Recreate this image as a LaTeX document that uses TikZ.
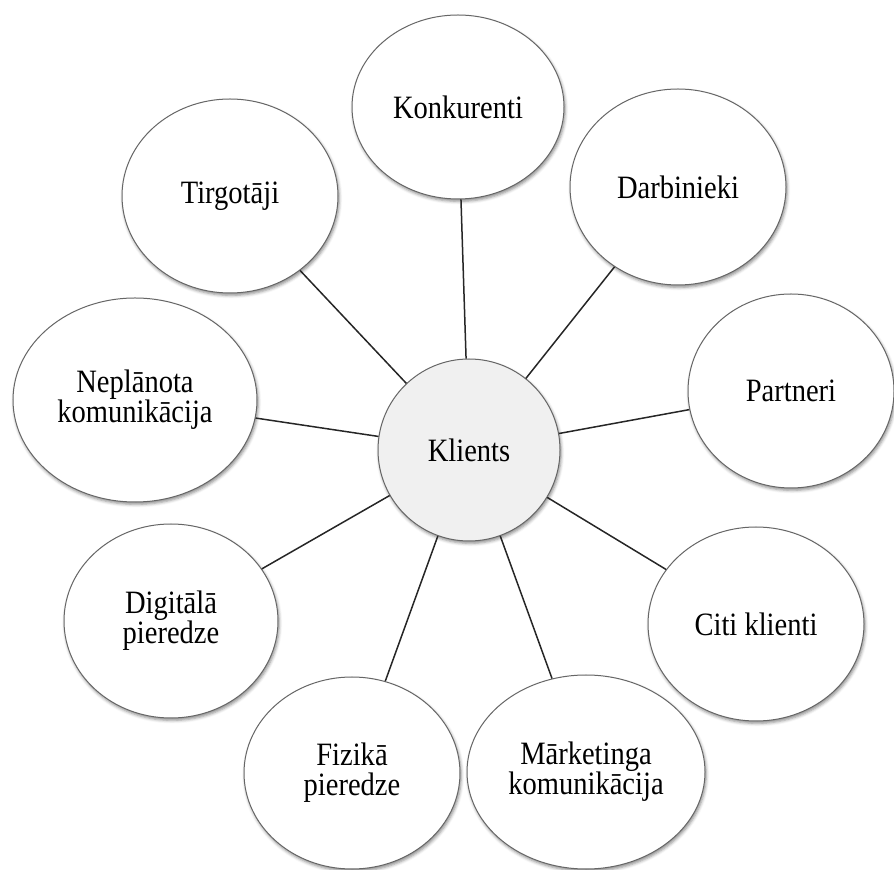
\documentclass[tikz,border=0pt]{standalone}
\usepackage{fontspec}
\setmainfont{Liberation Serif}[FakeStretch=0.875]
\usetikzlibrary{shapes.geometric,shadows.blur}
\begin{document}
\begin{tikzpicture}[x=0.5pt,y=-0.5pt,
  bub/.style={ellipse, draw=black!60, line width=0.5pt, fill=white, inner sep=0pt,
    align=center, font=\fontsize{16.3}{15}\selectfont,
    blur shadow={shadow xshift=0.6pt, shadow yshift=-1.2pt, shadow blur radius=1.5pt, shadow opacity=45}},
  link/.style={line width=0.75pt, black!85}]
\useasboundingbox (0,0) rectangle (894,870);
\node[bub, fill=black!6, minimum width=91pt, minimum height=91pt] (kl) at (469,450) {Klients};
\node[bub, minimum width=106pt, minimum height=92pt] (kon) at (458,107) {Konkurenti};
\node[bub, minimum width=108pt, minimum height=98pt] (dar) at (678,187) {Darbinieki};
\node[bub, minimum width=103pt, minimum height=97pt] (par) at (791,391) {Partneri};
\node[bub, minimum width=108pt, minimum height=97pt] (cit) at (756,624) {Citi klienti};
\node[bub, minimum width=119pt, minimum height=97pt] (mar) at (586,772) {Mārketinga\\komunikācija};
\node[bub, minimum width=108pt, minimum height=96pt] (fiz) at (352,773) {Fizikā\\pieredze};
\node[bub, minimum width=107pt, minimum height=97pt] (dig) at (171,621) {Digitālā\\pieredze};
\node[bub, minimum width=122pt, minimum height=102pt] (nep) at (135,400) {Neplānota\\komunikācija};
\node[bub, minimum width=108pt, minimum height=97pt] (tir) at (230,196) {Tirgotāji};
\foreach \n in {kon,dar,par,cit,mar,fiz,dig,nep,tir}
  \draw[link] (kl) -- (\n);
\end{tikzpicture}
\end{document}
